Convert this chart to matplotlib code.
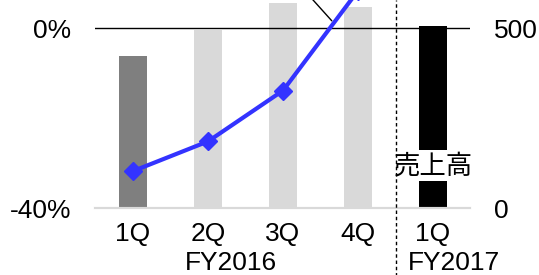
import matplotlib
matplotlib.use('Agg')
import matplotlib.pyplot as plt

# data
quarters = ['1Q', '2Q', '3Q', '4Q', '1Q']
fy_labels = ['FY2016', 'FY2017']
sales = [422, 494, 569, 558, 506]          # right axis
growth = [-31.8, -25.2, -13.9, 8.3]        # left axis, %
bar_colors = ['#7f7f7f', '#d9d9d9', '#d9d9d9', '#d9d9d9', '#000000']

plt.rcParams['font.family'] = ['Liberation Sans', 'Noto Sans CJK JP', 'DejaVu Sans']
FS = 19


def main():
	fig = plt.figure(figsize=(5.39, 2.75), dpi=100)
	ax = fig.add_axes([95/539, 67/275, 375/539, 208/275])
	ax2 = ax.twinx()

	x = list(range(len(quarters)))

	# bars on the right axis
	ax2.bar(x, sales, width=0.37, color=bar_colors, zorder=2)
	ax2.set_ylim(0, 500 * 208 / 180)
	ax2.set_yticks([0, 500])
	ax2.set_yticklabels(['0', '500'], fontsize=FS)
	ax2.tick_params(axis='y', length=0, pad=17)

	# growth line on the left axis
	ax.set_zorder(ax2.get_zorder() + 1)
	ax.patch.set_visible(False)
	ax.plot(x[:len(growth)], growth, '-', color='#3333ff', lw=3,
			marker='D', markersize=9, zorder=5, clip_on=True)
	ax.set_ylim(-40, -40 + 40 * 208 / 180)
	ax.set_yticks([-40, 0])
	ax.set_yticklabels(['-40%', '0%'], fontsize=FS)
	ax.tick_params(axis='y', length=0, pad=17)
	ax.axhline(0, color='black', lw=1, zorder=3)

	ax.set_xlim(-0.507, 4.493)
	ax.set_xticks(x)
	ax.set_xticklabels(quarters, fontsize=FS)
	ax.tick_params(axis='x', length=0, pad=10)

	for a in (ax, ax2):
		for s in ('top', 'left', 'right'):
			a.spines[s].set_visible(False)
		a.spines['bottom'].set_color('#d9d9d9')
		a.spines['bottom'].set_linewidth(1.5)

	# fiscal year labels
	trans = ax.get_xaxis_transform()
	ax.text(1.31, -0.264, fy_labels[0], transform=trans, fontsize=FS,
			ha='center', va='center')
	ax.text(4.28, -0.264, fy_labels[1], transform=trans, fontsize=FS,
			ha='center', va='center')

	# dashed separator between fiscal years
	ax.axvline(3.5, ymin=-0.33, ymax=1.0, color='black', lw=1,
			   linestyle=(0, (2.5, 2)), clip_on=False, zorder=4)

	# label over the FY2017 bar
	ax2.text(4, 118, '売上高', fontsize=FS, ha='center', va='center', zorder=6,
			 bbox=dict(facecolor='white', edgecolor='none', pad=2))

	# leader line towards the growth line
	ax.annotate('', xy=(2.65, 1.6), xytext=(-18, 20), textcoords='offset points',
				arrowprops=dict(arrowstyle='-', color='black', lw=1,
								shrinkA=0, shrinkB=0),
				annotation_clip=False)

	fig.savefig('out.png', dpi=100)


if __name__ == '__main__':
	main()
